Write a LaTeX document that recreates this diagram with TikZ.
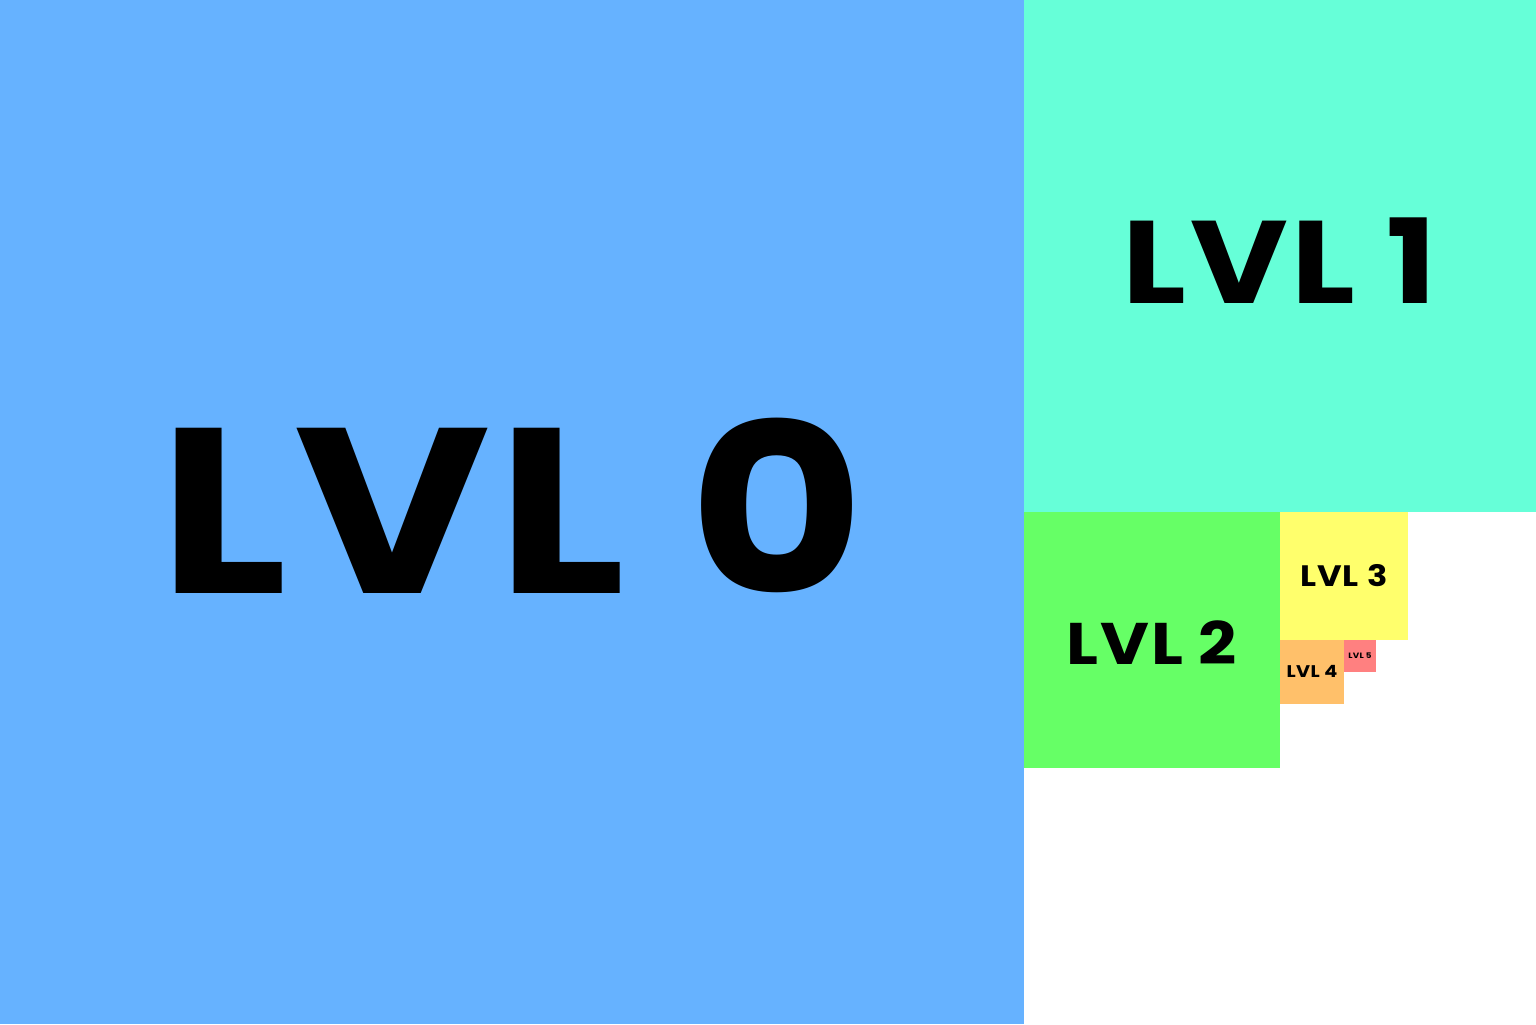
\documentclass[tikz,border=0pt]{standalone}
\usepackage{fontspec}
\setmainfont{Poppins}[FakeStretch=1.14,LetterSpace=3]
\usepackage{tikz}
\usetikzlibrary{positioning}
\usepackage{xcolor}
\definecolor{lvlblue}{RGB}{102,178,255}
\definecolor{lvlteal}{RGB}{102,255,216}
\definecolor{lvlgreen}{RGB}{102,255,102}
\definecolor{lvlyellow}{RGB}{255,255,108}
\definecolor{lvlorange}{RGB}{255,192,106}
\definecolor{lvlred}{RGB}{255,128,128}

\begin{document}
\begin{tikzpicture}[
  block/.style={rectangle,anchor=north west,inner sep=0pt,outer sep=0pt},
  tag/.style={inner sep=0pt,text=black,align=center},
  fsz/.style={font=\fontsize{#1}{#1}\selectfont\bfseries}
]
\useasboundingbox (0,0) rectangle (15.36,-10.24);
\fill[white] (0,0) rectangle (15.36,-10.24);
% squares, halving each time
\node[block,fill=lvlblue,minimum width=10.24cm,minimum height=10.24cm] (lvl0) at (0,0) {};
\node[block,fill=lvlteal,minimum width=5.12cm,minimum height=5.12cm] (lvl1) at (10.24,0) {};
\node[block,fill=lvlgreen,minimum width=2.56cm,minimum height=2.56cm] (lvl2) at (10.24,-5.12) {};
\node[block,fill=lvlyellow,minimum width=1.28cm,minimum height=1.28cm] (lvl3) at (12.80,-5.12) {};
\node[block,fill=lvlorange,minimum width=0.64cm,minimum height=0.64cm] (lvl4) at (12.80,-6.40) {};
\node[block,fill=lvlred,minimum width=0.32cm,minimum height=0.32cm] (lvl5) at (13.44,-6.40) {};
% labels
\node[tag,fsz=67pt] (t0) at ([yshift=0.06cm]lvl0.center) {LVL 0};
\node[tag,fsz=33.4pt] (t1) at ([yshift=-0.045cm]lvl1.center) {LVL 1};
\node[tag,fsz=16.7pt] (t2) at ([yshift=-0.03cm]lvl2.center) {LVL 2};
\node[tag,fsz=8.4pt] (t3) at (lvl3.center) {LVL 3};
\node[tag,fsz=4.8pt] (t4) at ([yshift=0.01cm]lvl4.center) {LVL 4};
\node[tag,fsz=2.2pt] (t5) at (lvl5.center) {LVL 5};
\end{tikzpicture}
\end{document}
